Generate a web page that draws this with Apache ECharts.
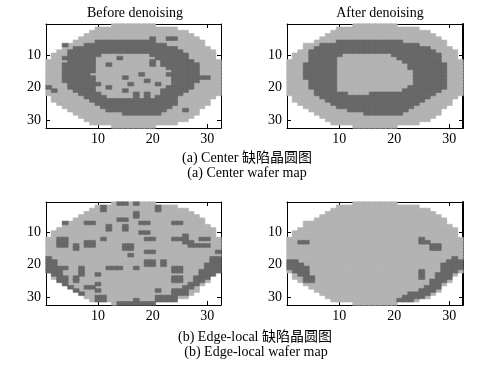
<!DOCTYPE html>
<html>
<head>
<meta charset="utf-8">
<script src="https://cdn.jsdelivr.net/npm/echarts@6/dist/echarts.min.js"></script>
<style>
html,body{margin:0;padding:0;background:#fff;}
#chart{width:498px;height:365px;}
</style>
</head>
<body>
<div id="chart"></div>
<script>
// wafer map values: 0 = outside wafer, 1 = normal die, 2 = defective die
// each row is 32 cells (spaces only for readability), row 1 at top
const cats = ['1','2','3','4','5','6','7','8','9','10','11','12','13','14','15','16',
              '17','18','19','20','21','22','23','24','25','26','27','28','29','30','31','32'];
const tickLabels = ['10','20','30'];

const centerBefore = [
"00000000 00001111 11110000 00000000",
"00000000 01111111 11111111 00000000",
"00000000 11111111 11111111 11000000",
"00000001 11111111 11111111 11100000",
"00000011 11111111 11121122 11110000",
"00000111 12222222 22221111 11111000",
"00021112 22222222 22222211 11111000",
"00011222 22222222 22222222 11111100",
"00112222 22222222 22222222 21111110",
"01112222 22111111 11122222 22111110",
"01122222 21111211 11112222 22111110",
"11112222 21111111 11121222 22211111",
"11122222 21121111 11121222 22221111",
"11122222 21111111 11111122 22221111",
"11122222 21111111 11111112 22221111",
"11122222 11111111 12111122 22221111",
"11122222 21111121 11111112 22222211",
"11122222 21111111 11211112 22221111",
"11112222 22111112 11112112 22211111",
"21112222 21121111 11111122 22211111",
"12111222 21111121 11111222 22111111",
"11111122 22111111 21211222 21111111",
"01111112 22211111 21212222 11111110",
"01111111 22222222 22222222 11111100",
"00111111 12222222 22222222 11111100",
"00011111 11222222 22222221 11111000",
"00001111 11122222 22222211 12110000",
"00000111 11111122 22222111 11110000",
"00000011 11111111 11111111 11100000",
"00000001 11111111 11111111 11000000",
"00000000 11111111 11111111 00000000",
"00000000 00001111 11110000 00000000"
];

const centerAfter = [
"00000000 00001111 11110000 00000000",
"00000000 01111111 11111111 00000000",
"00000000 11111111 11111111 11000000",
"00000001 11111111 11111111 11100000",
"00000011 11111111 11111111 11110000",
"00000111 12222222 22222111 11111000",
"00011122 22222222 22222222 11111000",
"00011222 22222222 22222222 22111100",
"00112222 22222222 22222222 22211110",
"01112222 22111111 11122222 22221110",
"01112222 21111111 11112222 22221110",
"11112222 21111111 11111222 22221111",
"11122222 21111111 11111122 22222111",
"11122222 21111111 11111122 22222111",
"11122222 21111111 11111112 22222111",
"11122222 21111111 11111112 22222111",
"11122222 21111111 11111112 22222111",
"11112222 21111111 11111112 22222111",
"11112222 21111111 11111112 22222111",
"11112222 21111111 11111122 22222111",
"11111222 21111111 11111222 22221111",
"11111222 22211112 22222222 22211111",
"01111122 22222222 22222222 22111110",
"01111112 22222222 22222222 21111100",
"00111111 22222222 22222222 11111100",
"00011111 12222222 22222221 11111000",
"00001111 11122222 22222211 11110000",
"00000111 11111122 22222111 11110000",
"00000011 11111111 11111111 11100000",
"00000001 11111111 11111111 11000000",
"00000000 11111111 11111111 00000000",
"00000000 00001111 11110000 00000000"
];

const edgeBefore = [
"00000000 00001221 21110000 00000000",
"00000000 01211111 11112111 00000000",
"00000000 11211111 11112111 11000000",
"00000001 11111111 21111111 11100000",
"00000011 11111111 21111111 11110000",
"00000111 11111221 11111111 11111000",
"00021112 21111111 12211112 21111000",
"00011111 11121121 11111111 11111100",
"00111111 11121121 11111111 11111110",
"01111111 11111111 12211111 11111110",
"01111111 11111111 11111111 12111110",
"11221111 11211111 11221112 22112211",
"11221112 21111111 11111111 12211111",
"11221212 21111122 11111111 11222211",
"11111211 11111122 11111111 11111111",
"11111111 11111111 11221111 11111112",
"11111111 11111112 11111111 11111111",
"21111111 11111111 11111111 11111122",
"22111111 11111111 11221211 11111122",
"22111111 11111111 11221211 11111222",
"22221121 11122211 21111112 21111222",
"22211121 11111111 11111112 21112222",
"02211121 12111111 11111111 11112220",
"01221211 11111111 11111112 21122200",
"00221211 11111111 11111112 21122100",
"00021111 12111111 11111111 11221000",
"00002112 21111111 11111111 12210000",
"00000211 12111111 11112112 22110000",
"00000021 11111111 11111112 22100000",
"00000001 12211111 11112222 11000000",
"00000000 12211111 21112222 00000000",
"00000000 00001222 22220000 00000000"
];

const edgeAfter = [
"00000000 00001111 11110000 00000000",
"00000000 01111111 11111111 00000000",
"00000000 11111111 11111111 11000000",
"00000001 11111111 11111111 11100000",
"00000011 11111111 11111111 11110000",
"00000111 11111111 11111111 11111000",
"00011111 11111111 11111111 11111000",
"00011111 11111111 11111111 11111100",
"00111111 11111111 11111111 11111110",
"01111111 11111111 11111111 11111110",
"01111111 11111111 11111111 11111110",
"11111111 11111111 11111111 21111111",
"11221111 11111111 11111111 22111111",
"11111111 11111111 11111111 11221111",
"11111111 11111111 11111111 11221111",
"11111111 11111111 11111111 11111111",
"11111111 11111111 11111111 11111111",
"11111111 11111111 11111111 11111121",
"22111111 11111111 11111111 11111222",
"22211111 11111111 11111111 11112222",
"22221111 11111111 11111111 11112222",
"12221111 11111111 11111111 21112221",
"01221111 11111111 11111111 21122210",
"01122111 11111111 11111111 21122200",
"00122111 11111111 11111111 11222100",
"00011111 11111111 11111111 11221000",
"00001111 11111111 11111111 12220000",
"00000111 11111111 11111111 22210000",
"00000011 11111111 11111122 22100000",
"00000001 11111111 11111222 21000000",
"00000000 11111111 11112221 00000000",
"00000000 00001111 11110000 00000000"
];

const panelTitles = ['Before denoising', 'After denoising'];
const captions = ['(a) Center 缺陷晶圆图', '(a) Center wafer map',
                  '(b) Edge-local 缺陷晶圆图', '(b) Edge-local wafer map'];

// ---------------------------------------------------------------
const FONT = "'Liberation Serif','Times New Roman','Noto Sans CJK SC',serif";
const LIGHT = '#b3b3b3';
const DARK = '#686868';

function cells(rows, v) {
  const out = [];
  rows.forEach((row, r) => {
    const s = row.replace(/ /g, '');
    for (let c = 0; c < s.length; c++) {
      if (s[c] === v) out.push([c, r, Number(v)]);
    }
  });
  return out;
}

const panels = [centerBefore, centerAfter, edgeBefore, edgeAfter];
const grids = [
  {left: 46, top: 24, width: 175, height: 104},
  {left: 287, top: 24, width: 176, height: 104},
  {left: 46, top: 202, width: 175, height: 103},
  {left: 287, top: 202, width: 176, height: 103}
];

const showTick = (i, v) => tickLabels.indexOf(v) >= 0;

function xAx(g, pos) {
  return {
    type: 'category', gridIndex: g, position: pos, data: cats, boundaryGap: true,
    axisLine: {show: true, onZero: false, lineStyle: {color: '#000', width: 1}},
    axisTick: {show: true, inside: true, length: 4, alignWithLabel: true, interval: showTick,
               lineStyle: {color: '#000', width: 1}},
    axisLabel: {show: pos === 'bottom', interval: showTick, color: '#000', fontSize: 14,
                fontFamily: FONT, margin: 4},
    splitLine: {show: false}
  };
}
function yAx(g, pos, w) {
  return {
    type: 'category', gridIndex: g, position: pos, data: cats, inverse: true, boundaryGap: true,
    axisLine: {show: true, onZero: false, lineStyle: {color: '#000', width: w}},
    axisTick: {show: true, inside: true, length: 4, alignWithLabel: true, interval: showTick,
               lineStyle: {color: '#000', width: 1}},
    axisLabel: {show: pos === 'left', interval: showTick, color: '#000', fontSize: 14,
                fontFamily: FONT, margin: 5},
    splitLine: {show: false}
  };
}

const xAxis = [], yAxis = [], series = [];
panels.forEach((rows, i) => {
  xAxis.push(xAx(i, 'bottom'), xAx(i, 'top'));
  yAxis.push(yAx(i, 'left', 1), yAx(i, 'right', i % 2 === 1 ? 2 : 1));
  [['1', LIGHT], ['2', DARK]].forEach(([v, col]) => {
    series.push({
      type: 'heatmap', xAxisIndex: i * 2, yAxisIndex: i * 2,
      data: cells(rows, v), silent: true, progressive: 0,
      itemStyle: {color: col, borderColor: col, borderWidth: 0.6},
      emphasis: {disabled: true}
    });
  });
});

function txt(s, x, y) {
  return {type: 'text', x: x, y: y, z: 10, silent: true,
          style: {text: s, font: '14px ' + FONT, fill: '#000',
                  align: 'center', verticalAlign: 'middle',
                  textAlign: 'center', textVerticalAlign: 'middle'}};
}

const graphic = [
  txt(panelTitles[0], 135, 13),
  txt(panelTitles[1], 380, 13),
  txt(captions[0], 247, 158),
  txt(captions[1], 247, 173),
  txt(captions[2], 255, 337),
  txt(captions[3], 256, 352)
];

const chart = echarts.init(document.getElementById('chart'), null, {renderer: 'canvas'});
chart.setOption({
  animation: false,
  backgroundColor: '#fff',
  grid: grids,
  xAxis: xAxis,
  yAxis: yAxis,
  series: series,
  graphic: graphic
});
</script>
</body>
</html>
